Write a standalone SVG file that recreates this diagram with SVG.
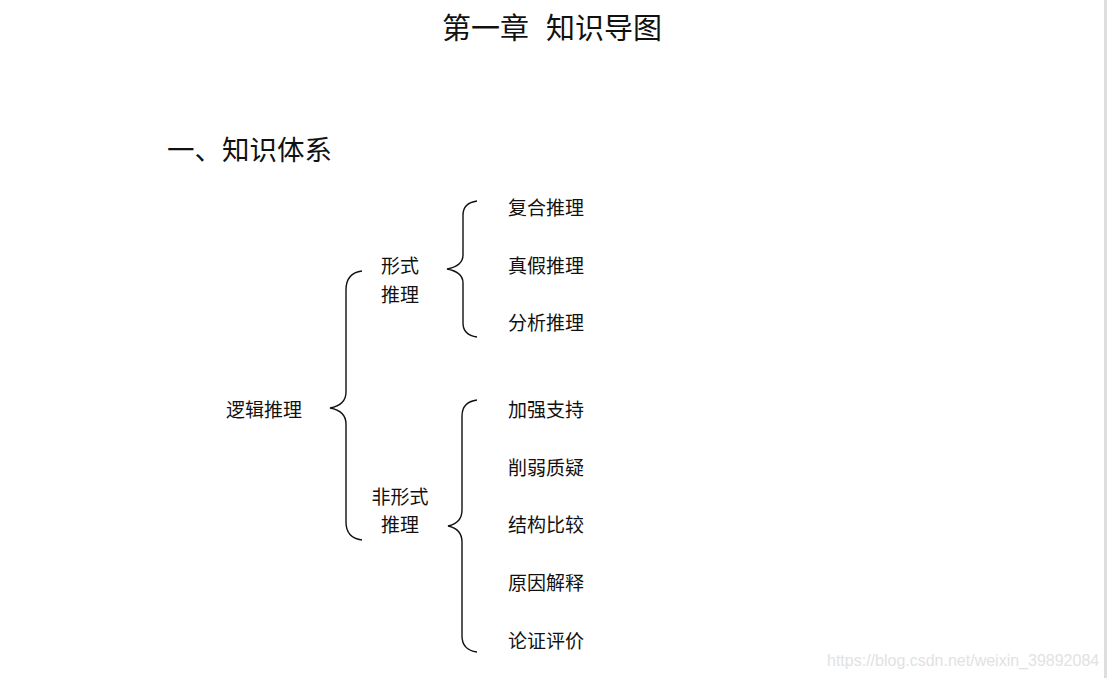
<svg xmlns="http://www.w3.org/2000/svg" width="1107" height="678" viewBox="0 0 1107 678">
<style>
.t{font-family:"Noto Sans CJK SC","Liberation Sans",sans-serif;fill:#111}
.n{font-size:19px}
.b{fill:none;stroke:#111;stroke-width:1.4}
.wm{font-family:"Liberation Sans",sans-serif;font-size:16px;fill:#e2e2e2}
</style>
<rect width="1107" height="678" fill="#fff"/>
<rect x="1104" y="0" width="3" height="678" fill="#dedede"/>
<text class="t" x="442" y="39" font-size="29">第一章</text>
<text class="t" x="546" y="39" font-size="29">知识导图</text>
<text class="t" x="167" y="160" font-size="27.5">一、知识体系</text>
<g id="connectors">
<path class="b" d="M362,271 Q346,273 346,290 L346,392 Q346,405 330,408 Q346,411 346,424 L346,522 Q346,538 362,540"/>
<path class="b" d="M477,201 Q463,203 463,215 L463,255 Q463,266 447,269 Q463,272 463,283 L463,323 Q463,335 477,337"/>
<path class="b" d="M477,400 Q462,402 462,416 L462,510 Q462,523 448,526 Q462,529 462,542 L462,636 Q462,650 477,652"/>
</g>
<g id="root"><text class="t n" x="264" y="417" text-anchor="middle">逻辑推理</text></g>
<g id="formal"><text class="t n" x="400" y="273" text-anchor="middle">形式</text><text class="t n" x="400" y="302" text-anchor="middle">推理</text></g>
<g id="informal"><text class="t n" x="400" y="504" text-anchor="middle">非形式</text><text class="t n" x="400" y="532" text-anchor="middle">推理</text></g>
<g id="n1"><text class="t n" x="508" y="215">复合推理</text></g>
<g id="n2"><text class="t n" x="508" y="273">真假推理</text></g>
<g id="n3"><text class="t n" x="508" y="330">分析推理</text></g>
<g id="n4"><text class="t n" x="508" y="417">加强支持</text></g>
<g id="n5"><text class="t n" x="508" y="475">削弱质疑</text></g>
<g id="n6"><text class="t n" x="508" y="532">结构比较</text></g>
<g id="n7"><text class="t n" x="508" y="590">原因解释</text></g>
<g id="n8"><text class="t n" x="508" y="648">论证评价</text></g>
<text class="wm" x="827" y="666">https://blog.csdn.net/weixin_39892084</text>
</svg>
